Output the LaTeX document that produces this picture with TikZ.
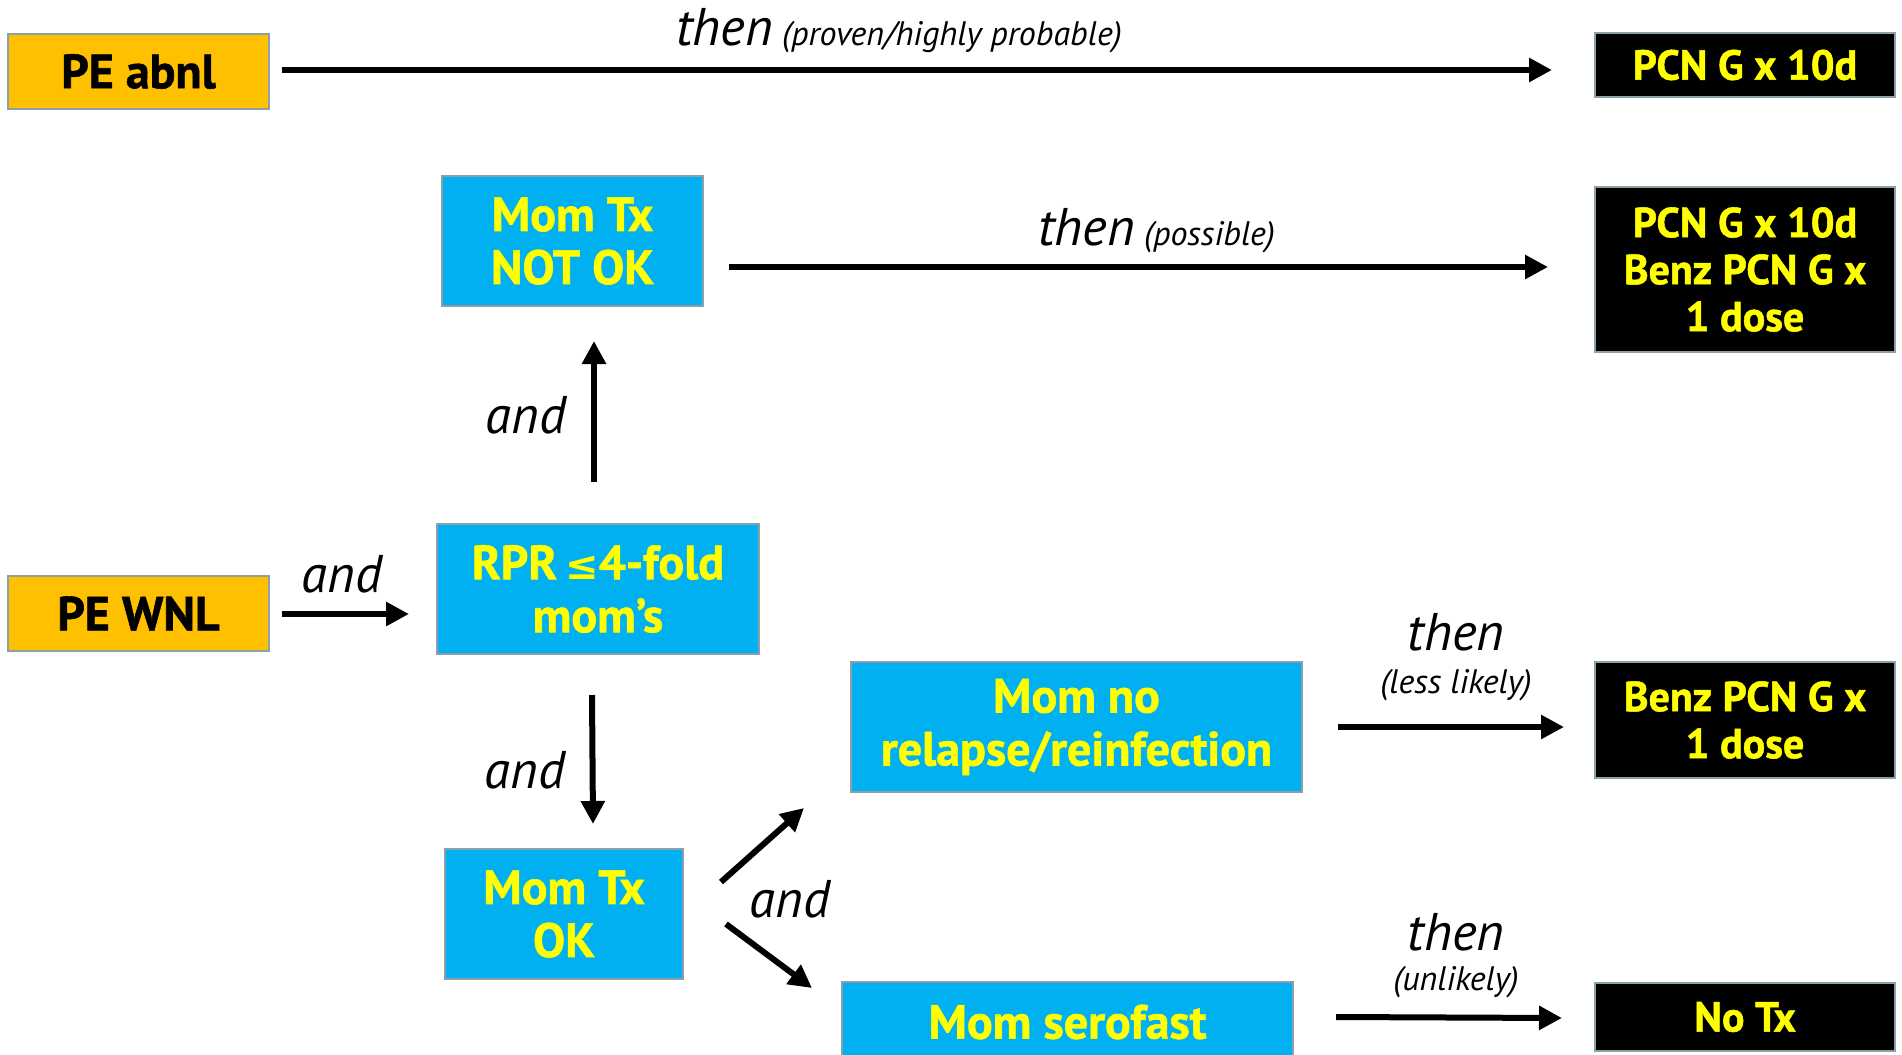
\documentclass[tikz,border=0pt]{standalone}
\usepackage{fontspec}
\setmainfont{PT Sans}
\newfontfamily\boxfont{PT Sans}[BoldFeatures={FakeBold=1.2}]
\newfontfamily\symfont{DejaVu Sans}
\usetikzlibrary{arrows.meta,calc}
\definecolor{peorange}{RGB}{255,192,0}
\definecolor{momblue}{RGB}{0,176,240}
\definecolor{txtyellow}{RGB}{255,255,0}
\definecolor{edgegray}{RGB}{140,160,170}
\tikzset{
  boxbase/.style={draw=edgegray, line width=2pt, inner sep=0pt, align=center,
    font=\boxfont\bfseries\fontsize{48}{53}\selectfont},
  peS/.style={boxbase, fill=peorange, text=black},
  blueS/.style={boxbase, fill=momblue, text=txtyellow},
  blackS/.style={boxbase, fill=black, text=txtyellow,
    font=\boxfont\bfseries\fontsize{42}{47}\selectfont},
  arr/.style={line width=6pt, -{Triangle[length=23pt,width=23pt]}},
  biglab/.style={inner sep=0pt, font=\itshape\fontsize{53}{60}\selectfont},
  smalllab/.style={inner sep=0pt, font=\itshape\fontsize{34}{40}\selectfont},
}
\begin{document}
\begin{tikzpicture}[x=1pt,y=-1pt]
\clip (0,0) rectangle (1902,1054);
\fill[white] (0,0) rectangle (1902,1054);
% boxes
\node[peS, minimum width=261pt, minimum height=75pt] (peabnl) at (138.5,71.5) {PE abnl};
\node[blackS, minimum width=300pt, minimum height=64pt] (pcn1) at (1745,65) {PCN G x 10d};
\node[blueS, minimum width=261pt, minimum height=130pt] (notok) at (572.5,241) {Mom Tx\\NOT OK};
\node[blackS, minimum width=300pt, minimum height=165pt] (pcn2) at (1745,269.5) {PCN G x 10d\\Benz PCN G x\\1 dose};
\node[peS, minimum width=261pt, minimum height=75pt] (pewnl) at (138.5,613.5) {PE WNL};
\node[blueS, minimum width=322pt, minimum height=130pt] (rpr) at (598,589) {RPR\,{\symfont\bfseries\fontsize{40}{53}\selectfont ≤}4-fold\\mom’s};
\node[blueS, minimum width=238pt, minimum height=130pt] (txok) at (564,914) {Mom Tx\\OK};
\node[blueS, minimum width=451pt, minimum height=130pt] (norel) at (1076.5,727) {Mom no\\relapse/reinfection};
\node[blackS, minimum width=300pt, minimum height=116pt] (benz) at (1745,720) {Benz PCN G x\\1 dose};
\node[blueS, minimum width=451pt, minimum height=100pt] (sero) at (1067.5,1032) {};
\node[inner sep=0pt, text=txtyellow, font=\boxfont\bfseries\fontsize{48}{53}\selectfont] (serotext) at (1067.5,1022) {Mom serofast};
\node[blackS, minimum width=300pt, minimum height=68pt] (notx) at (1745,1017) {No Tx};
% arrows
\draw[arr] ($(peabnl.east)+(12,-1.5)$) -- ($(peabnl.east -| pcn1.west)+(-42,-1.5)$);
\draw[arr] ($(notok.east |- pcn2.west)+(25,-2.5)$) -- ($(pcn2.west)+(-46,-2.5)$);
\draw[arr] ($(rpr.north)+(-4,-41)$) -- ($(notok.south)+(21.5,34)$);
\draw[arr] ($(pewnl.east)+(12,0.5)$) -- ($(pewnl.east -| rpr.west)+(-27,0.5)$);
\draw[arr] ($(rpr.south)+(-6,40)$) -- ($(txok.north)+(29,-24)$);
\draw[arr] ($(txok.east)+(37,-32)$) -- ($(norel.west)+(-46,81)$);
\draw[arr] ($(txok.east)+(42,10)$) -- ($(sero.north west)+(-29,7)$);
\draw[arr] ($(norel.east)+(35,0)$) -- ($(norel.east -| benz.west)+(-30,0)$);
\draw[arr] ($(sero.north east)+(42,36)$) -- ($(notx.west)+(-32,1)$);
% labels
\node[biglab, anchor=base west] (then1) at (676,46) {then};
\node[smalllab, anchor=base west] (pr1) at (782,46) {(proven/highly probable)};
\node[biglab, anchor=base west] (then2) at (1038,245) {then};
\node[smalllab, anchor=base west] (pr2) at (1144,245) {(possible)};
\node[biglab, anchor=base] (and1) at (526,433) {and};
\node[biglab, anchor=base] (and2) at (342,592) {and};
\node[biglab, anchor=base] (and3) at (525,788) {and};
\node[biglab, anchor=base] (and4) at (790,917) {and};
\node[biglab, anchor=base] (then3) at (1456,650) {then};
\node[smalllab, anchor=base] (ll) at (1456,693) {(less likely)};
\node[biglab, anchor=base] (then4) at (1456,950) {then};
\node[smalllab, anchor=base] (ul) at (1456,990) {(unlikely)};
\end{tikzpicture}
\end{document}
